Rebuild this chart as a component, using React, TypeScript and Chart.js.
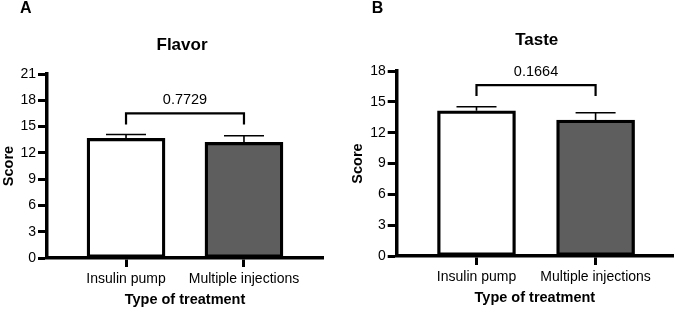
import React, { useEffect, useRef } from 'react';
import { Chart, registerables } from 'chart.js';

Chart.register(...registerables);

// ---- data ----
const categories = ['Insulin pump', 'Multiple injections'];
const flavorMeans = [13.66, 13.2];
const flavorSEM = [0.44, 0.75];
const tasteMeans = [14.13, 13.23];
const tasteSEM = [0.39, 0.71];
const flavorYMax = 21;
const tasteYMax = 18;
const yStep = 3;
const pValues = ['0.7729', '0.1664'];
const flavorBracket = [16.5, 15.25]; // [top, drop end]
const tasteBracket = [16.63, 15.56];
const barColors = ['#ffffff', '#5e5e5e'];
const axisTitleX = 'Type of treatment';
const axisTitleY = 'Score';

const FONT = '"Liberation Sans", Arial, Helvetica, sans-serif';

type Geo = {
  left: number;
  width: number;
  padLeft: number;
  padRight: number;
  padTop: number;
  padBottom: number;
  yWidth: number;
  xHeight: number;
  xLabelPad: number;
  titleX: number;
  titleY: number;
  letterX: number;
  letterY: number;
  xMin: number;
  xMax: number;
};

type PanelProps = {
  letter: string;
  title: string;
  means: number[];
  sem: number[];
  yMax: number;
  pValue: string;
  bracket: number[];
  geo: Geo;
};

function Panel({ letter, title, means, sem, yMax, pValue, bracket, geo }: PanelProps) {
  const ref = useRef<HTMLCanvasElement | null>(null);

  useEffect(() => {
    const canvas = ref.current;
    if (!canvas) return;

    const annot = {
      id: 'annot' + letter,
      afterDatasetsDraw(chart: any) {
        const ctx = chart.ctx;
        const xs = chart.scales.x;
        const ys = chart.scales.y;
        const meta = chart.getDatasetMeta(0);
        ctx.save();
        ctx.strokeStyle = '#000';
        // error bars (upper only)
        ctx.lineWidth = 1.6;
        meta.data.forEach((bar: any, i: number) => {
          const x = bar.x;
          const yTop = ys.getPixelForValue(means[i] + sem[i]);
          ctx.beginPath();
          ctx.moveTo(x, bar.y);
          ctx.lineTo(x, yTop);
          ctx.moveTo(x - 20, yTop);
          ctx.lineTo(x + 20, yTop);
          ctx.stroke();
        });
        // significance bracket
        const x0 = xs.getPixelForValue(0);
        const x1 = xs.getPixelForValue(1);
        const yb = ys.getPixelForValue(bracket[0]);
        const yd = ys.getPixelForValue(bracket[1]);
        ctx.lineWidth = 2.2;
        ctx.beginPath();
        ctx.moveTo(x0, yd);
        ctx.lineTo(x0, yb);
        ctx.lineTo(x1, yb);
        ctx.lineTo(x1, yd);
        ctx.stroke();
        ctx.fillStyle = '#000';
        ctx.font = '14.5px ' + FONT;
        ctx.textAlign = 'center';
        ctx.textBaseline = 'alphabetic';
        ctx.fillText(pValue, (x0 + x1) / 2, yb - 9.5);
        ctx.restore();
      },
      afterDraw(chart: any) {
        const ctx = chart.ctx;
        ctx.save();
        ctx.fillStyle = '#000';
        ctx.textBaseline = 'alphabetic';
        ctx.font = 'bold 17px ' + FONT;
        ctx.textAlign = 'center';
        ctx.fillText(title, geo.titleX, geo.titleY);
        ctx.font = 'bold 16px ' + FONT;
        ctx.textAlign = 'left';
        ctx.fillText(letter, geo.letterX, geo.letterY);
        ctx.restore();
      },
    };

    const chart = new Chart(canvas, {
      type: 'bar',
      data: {
        labels: categories,
        datasets: [
          {
            data: means,
            backgroundColor: barColors,
            borderColor: '#000',
            borderWidth: 3.3,
            borderSkipped: false,
            barThickness: 78,
          },
        ],
      },
      options: {
        responsive: false,
        animation: false,
        devicePixelRatio: 1,
        layout: {
          padding: {
            left: geo.padLeft,
            right: geo.padRight,
            top: geo.padTop,
            bottom: geo.padBottom,
          },
        },
        plugins: {
          legend: { display: false },
          tooltip: { enabled: false },
          title: { display: false },
        },
        scales: {
          x: {
            type: 'category',
            offset: false,
            afterBuildTicks: (axis: any) => {
              // widen the value range so the bars sit inward from the axis ends
              axis._startValue = geo.xMin;
              axis._valueRange = geo.xMax - geo.xMin;
            },
            afterFit: (scale: any) => {
              scale.height = geo.xHeight;
            },
            ticks: {
              autoSkip: false,
              maxRotation: 0,
              padding: geo.xLabelPad,
              color: '#000',
              font: { family: FONT, size: 14 },
            },
            grid: {
              offset: false,
              drawOnChartArea: false,
              drawTicks: true,
              tickLength: 9,
              tickWidth: 3,
              tickColor: '#000',
              color: '#000',
            },
            border: { display: true, color: '#000', width: 3.5 },
            title: {
              display: true,
              text: axisTitleX,
              color: '#000',
              font: { family: FONT, size: 14.5, weight: 'bold' },
              padding: 0,
            },
          },
          y: {
            min: 0,
            max: yMax,
            afterFit: (scale: any) => {
              scale.width = geo.yWidth;
            },
            ticks: {
              stepSize: yStep,
              padding: 2,
              color: '#000',
              font: { family: FONT, size: 14 },
            },
            grid: {
              drawOnChartArea: false,
              drawTicks: true,
              tickLength: 9,
              tickWidth: 3,
              tickColor: '#000',
              color: '#000',
            },
            border: { display: true, color: '#000', width: 3.5 },
            title: {
              display: true,
              text: axisTitleY,
              color: '#000',
              font: { family: FONT, size: 14.5, weight: 'bold' },
              padding: 0,
            },
          },
        },
      },
      plugins: [annot],
    } as any);

    return () => chart.destroy();
  }, []);

  return (
    <div style={{ position: 'absolute', left: geo.left, top: 0, width: geo.width, height: 309 }}>
      <canvas ref={ref} width={geo.width} height={309} style={{ width: geo.width, height: 309, display: 'block' }} />
    </div>
  );
}

const geoA: Geo = {
  left: 0,
  width: 335,
  padLeft: 0,
  padRight: 12,
  padTop: 74,
  padBottom: 0,
  yWidth: 47,
  xHeight: 51,
  xLabelPad: 4,
  titleX: 182,
  titleY: 49.5,
  letterX: 20,
  letterY: 13.3,
  xMin: -0.67,
  xMax: 1.67,
};

const geoB: Geo = {
  left: 335,
  width: 340,
  padLeft: 14.3,
  padRight: 2,
  padTop: 71,
  padBottom: 2,
  yWidth: 47.4,
  xHeight: 51,
  xLabelPad: 3.5,
  titleX: 201.7,
  titleY: 44.5,
  letterX: 36.7,
  letterY: 12.7,
  xMin: -0.67,
  xMax: 1.65,
};

export default function App() {
  return (
    <div style={{ position: 'absolute', left: 0, top: 0, width: 675, height: 309, background: '#fff', overflow: 'hidden' }}>
      <Panel
        letter="A"
        title="Flavor"
        means={flavorMeans}
        sem={flavorSEM}
        yMax={flavorYMax}
        pValue={pValues[0]}
        bracket={flavorBracket}
        geo={geoA}
      />
      <Panel
        letter="B"
        title="Taste"
        means={tasteMeans}
        sem={tasteSEM}
        yMax={tasteYMax}
        pValue={pValues[1]}
        bracket={tasteBracket}
        geo={geoB}
      />
    </div>
  );
}
